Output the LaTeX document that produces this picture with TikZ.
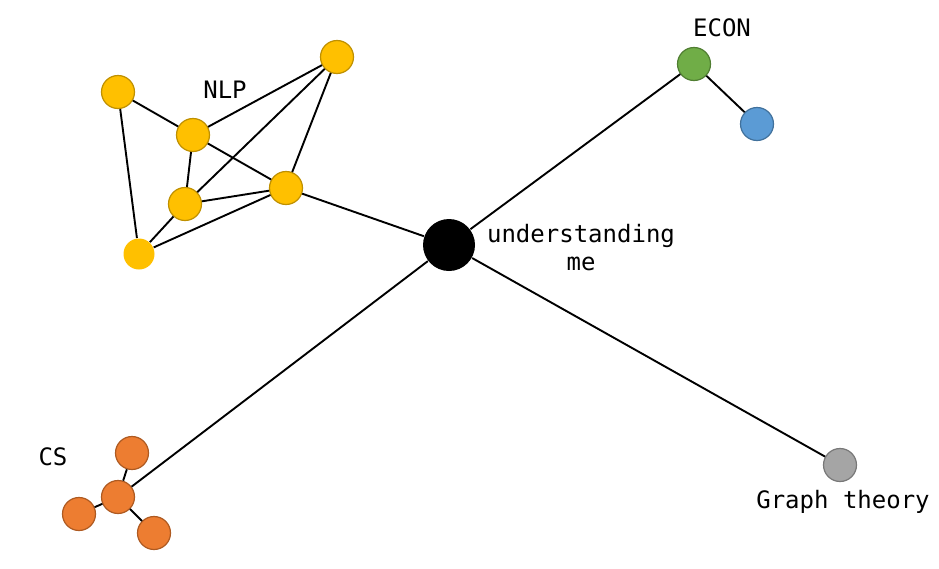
\documentclass[tikz,border=0pt]{standalone}
\usepackage{fontspec}
\setmonofont{DejaVu Sans Mono}
\usepackage{tikz}
\usetikzlibrary{positioning}

\begin{document}
\begin{tikzpicture}[x=1pt,y=-1pt,line width=1.9pt,
  dot/.style={circle,inner sep=0pt,minimum size=33pt,line width=1.2pt},
  nlp/.style={dot,fill={rgb,255:red,255;green,192;blue,0},draw={rgb,255:red,191;green,144;blue,0}},
  cs/.style={dot,fill={rgb,255:red,237;green,125;blue,49},draw={rgb,255:red,174;green,90;blue,33}},
  lbl/.style={font=\ttfamily\fontsize{24}{28}\selectfont,align=center,inner sep=0pt}]
  \useasboundingbox (0,0) rectangle (939,568);
  \node (M) [dot,fill=black,minimum size=52pt] at (449,245) {};
  \node (N1) [nlp] at (118,92) {};
  \node (N2) [nlp] at (337,57) {};
  \node (N3) [nlp] at (193,135) {};
  \node (N4) [nlp] at (185,204) {};
  \node (N5) [nlp] at (286,188) {};
  \node (N6) [nlp,draw=none,minimum size=31pt] at (139,254) {};
  \node (C1) [cs] at (132,453) {};
  \node (C2) [cs] at (118,497) {};
  \node (C3) [cs] at (79,514) {};
  \node (C4) [cs] at (154,533) {};
  \node (E1) [dot,fill={rgb,255:red,112;green,173;blue,71},draw={rgb,255:red,80;green,126;blue,50}] at (694,64) {};
  \node (E2) [dot,fill={rgb,255:red,91;green,155;blue,213},draw={rgb,255:red,65;green,113;blue,156}] at (757,124) {};
  \node (G) [dot,fill={rgb,255:red,165;green,165;blue,165},draw={rgb,255:red,120;green,120;blue,120}] at (840,465) {};
  \node (nlplbl) [lbl] at (225,90) {NLP};
  \node (cslbl) [lbl] at (53,457) {CS};
  \node (econlbl) [lbl] at (722,28) {ECON};
  \node (gtlbl) [lbl] at (843,502) {Graph theory};
  \node (melbl) [lbl] at (581,248) {understanding\\me};
  \draw (N1) -- (N3);
  \draw (N1) -- (N6);
  \draw (N3) -- (N2);
  \draw (N3) -- (N4);
  \draw (N3) -- (N5);
  \draw (N2) -- (N4);
  \draw (N2) -- (N5);
  \draw (N4) -- (N5);
  \draw (N4) -- (N6);
  \draw (N6) -- (N5);
  \draw (N5) -- (M);
  \draw (E1) -- (E2);
  \draw (E1) -- (M);
  \draw (M) -- (G);
  \draw (M) -- (C2);
  \draw (C1) -- (C2);
  \draw (C2) -- (C3);
  \draw (C2) -- (C4);
\end{tikzpicture}
\end{document}
